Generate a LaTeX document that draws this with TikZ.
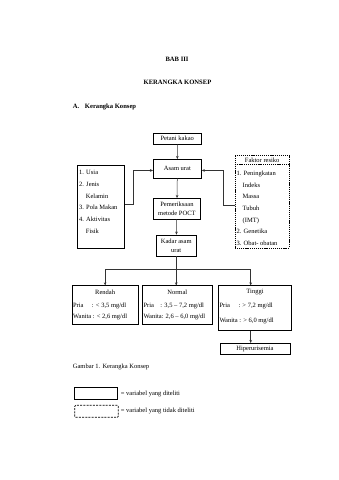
\documentclass[tikz,border=0pt]{standalone}
\usepackage{fontspec}
\setmainfont{Liberation Serif}
\usetikzlibrary{arrows.meta}
\begin{document}
\begin{tikzpicture}[x=1pt,y=-1pt,
  box/.style={draw, line width=0.6pt, inner sep=0pt, font=\fontsize{6.5}{9}\selectfont, align=center},
  dotbox/.style={draw, line width=0.6pt, dash pattern=on 1.1pt off 0.8pt, inner sep=0pt},
  legdash/.style={draw, line width=0.7pt, dash pattern=on 2pt off 1.2pt, rounded corners=1pt, inner sep=0pt},
  txt/.style={font=\fontsize{6.5}{8}\selectfont, inner sep=0pt},
  head/.style={font=\fontsize{6.6}{8}\selectfont\bfseries, inner sep=0pt},
  list/.style={font=\fontsize{6.5}{11.65}\selectfont, inner sep=0pt, align=left},
  conn/.style={line width=0.5pt, draw=black!80},
  arr/.style={conn, -{Stealth[length=3pt,width=2.6pt]}}]
\fill[white] (0,0) rectangle (339,480);
\useasboundingbox (0,0) rectangle (339,480);

% headings
\node[head] (bab) at (177,59) {BAB III};
\node[head] (kk) at (177.5,82.5) {KERANGKA KONSEP};
\node[head, anchor=west] (sa) at (72.7,106.7) {A.\hspace{4pt} Kerangka Konsep};

% main boxes
\node[box, minimum width=48.5pt, minimum height=10.5pt] (petani) at (177.25,138.75) {Petani kakao};
\node[box, minimum width=48.2pt, minimum height=18.7pt] (asam) at (177.4,168.65) {Asam urat};
\node[box, minimum width=47.2pt, minimum height=20.7pt] (periksa) at (176.9,208.65) {Pemeriksaan\\metode POCT};
\node[box, minimum width=39.5pt, minimum height=21pt] (kadar) at (176.25,245.5) {Kadar asam\\urat};

% left box
\node[box, minimum width=47.5pt, minimum height=83.3pt] (left) at (100.75,206.65) {};
\node[list, anchor=north west] (lefttxt) at (79,170.4) {1. Usia\\2. Jenis\\\hspace{6.7pt}Kelamin\\3. Pola Makan\\4. Aktivitas\\\hspace{6.7pt}Fisik};

% faktor resiko (dotted)
\node[dotbox, minimum width=54.3pt, minimum height=92.3pt] (faktor) at (262.15,201.85) {};
\draw[dotbox] (faktor.west |- 0,164.4) -- (faktor.east |- 0,164.4);
\node[txt] (ftitle) at (262.15,160.2) {Faktor resiko};
\node[list, anchor=north west] (ftxt) at (236.5,170.7) {1. Peningkatan\\\hspace{6pt}Indeks\\\hspace{6pt}Massa\\\hspace{6pt}Tubuh\\\hspace{6pt}(IMT)\\2. Genetika\\3. Obat- obatan};

% category boxes
\node[box, minimum width=66.3pt, minimum height=38.6pt] (rendah) at (105.15,305) {};
\node[box, minimum width=70pt, minimum height=38.6pt] (normal) at (177.3,305) {};
\node[box, minimum width=73.4pt, minimum height=44.8pt] (tinggi) at (255,308.1) {};
\node[box, minimum width=70pt, minimum height=10.7pt] (hiper) at (255,348.65) {Hiperurisemia};

\node[txt] (rt) at (105.15,292.2) {Rendah};
\node[txt, anchor=base west] (rp) at (72.8,307) {\makebox[19pt][l]{Pria}: < 3,5 mg/dl};
\node[txt, anchor=base west] (rw) at (72.8,318.7) {Wanita : < 2,6 mg/dl};

\node[txt] (nt) at (177.3,292.2) {Normal};
\node[txt, anchor=base west] (np) at (143.3,307) {\makebox[17pt][l]{Pria}: 3,5 – 7,2 mg/dl};
\node[txt, anchor=base west] (nw) at (143.3,318.7) {Wanita: 2,6 – 6,0 mg/dl};

\node[txt] (tt) at (255,292.2) {Tinggi};
\node[txt, anchor=base west] (tp) at (219.3,307) {\makebox[19pt][l]{Pria}: > 7,2 mg/dl};
\node[txt, anchor=base west] (tw) at (219.3,322.7) {Wanita : > 6,0 mg/dl};

% connectors
\draw[arr] (petani) -- (asam);
\draw[arr] (asam) -- (periksa);
\draw[arr] (periksa) -- (kadar);
\draw[arr] ([yshift=2.6pt]left.east) -- ++(8.2,0) |- ([yshift=-1.8pt]asam.west);
\draw[arr] ([yshift=-3pt]faktor.west) -- ++(-11.7,0) |- ([yshift=-1.8pt]asam.east);

\coordinate (br) at (176.25,269.3);
\coordinate (bt) at (250.7,269.3);
\draw[arr] (kadar.south) -- (kadar.south |- normal.north);
\draw[conn] (rendah.north |- br) -- (bt);
\draw[arr] (rendah.north |- br) -- (rendah.north);
\draw[arr] (bt) -- (bt |- tinggi.north);
\draw[arr] (bt |- tinggi.south) -- (bt |- hiper.north);

% caption and legend
\node[txt, anchor=west] (cap) at (72.7,367.3) {Gambar 1. Kerangka Konsep};
\node[box, minimum width=43.3pt, minimum height=12pt] (leg1) at (95.65,393.3) {};
\node[legdash, minimum width=43.6pt, minimum height=12pt] (leg2) at (96.5,411.3) {};
\node[txt, anchor=west] (l1) at (120.7,393.5) {= variabel yang diteliti};
\node[txt, anchor=west] (l2) at (120.7,410.5) {= variabel yang tidak diteliti};
\end{tikzpicture}
\end{document}
